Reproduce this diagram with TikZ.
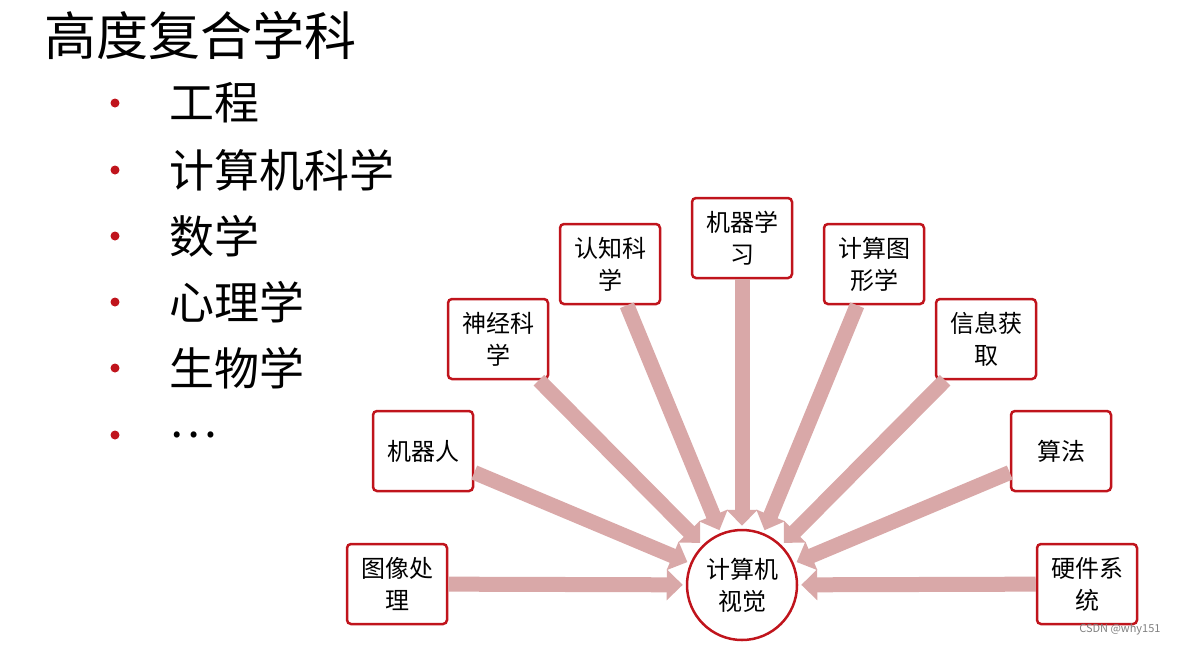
\documentclass[tikz,border=0pt]{standalone}
\usepackage{fontspec}
\setmainfont{Noto Sans CJK SC}
\usetikzlibrary{arrows.meta}
\definecolor{bred}{HTML}{C0141C}
\definecolor{apink}{HTML}{D9A8A8}
\begin{document}
\begin{tikzpicture}[x=1pt,y=-1pt,
  box/.style={draw=bred,line width=2.5pt,rounded corners=4pt,minimum width=100pt,minimum height=80pt,align=center,font=\fontsize{24}{32}\selectfont,fill=white,inner sep=1pt},
  arr/.style={draw=apink,line width=15pt,-{Triangle[width=30pt,length=16pt]},shorten >=3pt},
  bul/.style={circle,fill=bred,minimum size=9pt,inner sep=0pt},
  item/.style={anchor=west,font=\fontsize{45}{50}\selectfont}]
\useasboundingbox (0,0) rectangle (1177,646);
\node[anchor=west,font=\fontsize{52}{56}\selectfont,inner sep=0pt] (title) at (44,36) {高度复合学科};
\foreach \y/\t [count=\i] in {103/工程,170/计算机科学,236/数学,302/心理学,368/生物学,435/\dots}{
  \node[bul] (b\i) at (115,\y) {};
  \node[item,inner sep=0pt] (t\i) at (169,\y) {\t};
}
\node[circle,draw=bred,line width=2.5pt,minimum size=110pt,align=center,font=\fontsize{24}{32}\selectfont,inner sep=0pt] (c) at (742,585) {计算机\\视觉};
\node[box] (n1) at (397,584) {图像处\\理};
\node[box] (n2) at (423,451) {机器人};
\node[box] (n3) at (498,339) {神经科\\学};
\node[box] (n4) at (610,264) {认知科\\学};
\node[box] (n5) at (742,238) {机器学\\习};
\node[box] (n6) at (874,264) {计算图\\形学};
\node[box] (n7) at (986,339) {信息获\\取};
\node[box] (n8) at (1061,451) {算法};
\node[box] (n9) at (1087,584) {硬件系\\统};
\foreach \n in {1,...,9}{\draw[arr] (n\n) -- (c);}
\node[anchor=east,text=gray,font=\fontsize{11}{12}\selectfont] (wm) at (1164,629) {CSDN @why151};
\end{tikzpicture}
\end{document}
